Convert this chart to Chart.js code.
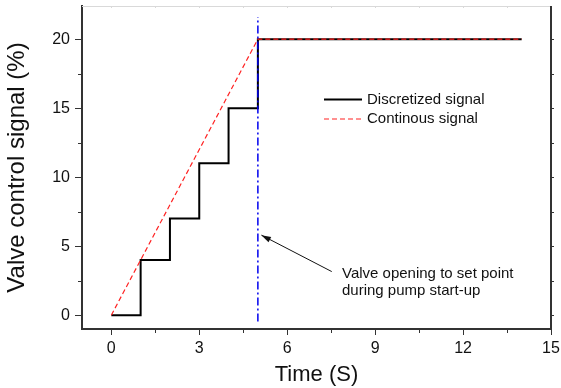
<!DOCTYPE html>
<html lang="en">

<head>
    <meta charset="UTF-8">
    <script src="https://cdn.jsdelivr.net/npm/chart.js@4.4.1/dist/chart.umd.min.js"></script>
    <title>Valve control signal</title>
</head>

<body style="margin: 0; background: #fff;">
    <canvas id="myChart" width="561" height="388"></canvas>
    <script>
        // discretized (stair) signal
        const stepTime = [0, 1, 1, 2, 2, 3, 3, 4, 4, 5, 5, 14];
        const stepValue = [0, 0, 4, 4, 7, 7, 11, 11, 15, 15, 20, 20];
        // continuous ramp
        const rampTime = [0, 5, 14];
        const rampValue = [0, 20, 20];
        // vertical marker at the set point
        const markTime = [5, 5];
        const markValue = [-0.45, 21.6];

        const xTicks = [0, 3, 6, 9, 12, 15];
        const xMinor = [1.5, 4.5, 7.5, 10.5, 13.5];
        const yTicks = [0, 5, 10, 15, 20];
        const yMinor = [2.5, 7.5, 12.5, 17.5];

        const noteLines = ['Valve opening to set point', 'during pump start-up'];
        const noteAt = [7.87, 2.99];
        const arrowFrom = [7.52, 3.16];
        const arrowTo = [5.12, 5.8];

        const FONT = "'Liberation Sans', Arial, sans-serif";

        function toPoints(xs, ys) {
            return xs.map((x, i) => ({ x: x, y: ys[i] }));
        }

        const frame = {
            id: 'frame',
            afterDraw(chart) {
                const ctx = chart.ctx;
                const a = chart.chartArea;
                const xs = chart.scales.x;
                const ys = chart.scales.y;
                ctx.save();
                // top line, light gray
                ctx.strokeStyle = '#d9d9d9';
                ctx.lineWidth = 1;
                ctx.beginPath();
                ctx.moveTo(a.left, a.top + 0.5);
                ctx.lineTo(a.right, a.top + 0.5);
                xTicks.concat(xMinor).forEach(v => {
                    const px = Math.round(xs.getPixelForValue(v)) + 0.5;
                    ctx.moveTo(px, a.top);
                    ctx.lineTo(px, a.top + 2);
                });
                ctx.stroke();
                // right axis
                ctx.strokeStyle = '#333';
                ctx.lineWidth = 2;
                ctx.beginPath();
                ctx.moveTo(a.right, a.top);
                ctx.lineTo(a.right, a.bottom);
                ctx.stroke();
                ctx.lineWidth = 1;
                ctx.beginPath();
                yTicks.concat(yMinor).forEach(v => {
                    const py = Math.round(ys.getPixelForValue(v)) + 0.5;
                    ctx.moveTo(a.right, py);
                    ctx.lineTo(a.right + 3, py);
                });
                // minor ticks on left and bottom
                yMinor.forEach(v => {
                    const py = Math.round(ys.getPixelForValue(v)) + 0.5;
                    ctx.moveTo(a.left - 4, py);
                    ctx.lineTo(a.left, py);
                });
                xMinor.forEach(v => {
                    const px = Math.round(xs.getPixelForValue(v)) + 0.5;
                    ctx.moveTo(px, a.bottom);
                    ctx.lineTo(px, a.bottom + 4);
                });
                ctx.stroke();

                // legend
                ctx.font = '15px ' + FONT;
                ctx.textBaseline = 'middle';
                ctx.textAlign = 'left';
                const legendRows = [0, 1];
                legendRows.forEach((di, i) => {
                    const ds = chart.data.datasets[di];
                    const y = 99.5 + i * 19.5;
                    ctx.strokeStyle = ds.borderColor;
                    ctx.lineWidth = ds.borderWidth;
                    ctx.setLineDash(ds.borderDash || []);
                    ctx.beginPath();
                    ctx.moveTo(324, y);
                    ctx.lineTo(362, y);
                    ctx.stroke();
                    ctx.setLineDash([]);
                    ctx.fillStyle = '#111';
                    ctx.fillText(ds.label, 367, y);
                });

                // annotation arrow + text
                const x0 = xs.getPixelForValue(arrowFrom[0]);
                const y0 = ys.getPixelForValue(arrowFrom[1]);
                const x1 = xs.getPixelForValue(arrowTo[0]);
                const y1 = ys.getPixelForValue(arrowTo[1]);
                ctx.strokeStyle = '#111';
                ctx.fillStyle = '#111';
                ctx.lineWidth = 1;
                ctx.beginPath();
                ctx.moveTo(x0, y0);
                ctx.lineTo(x1, y1);
                ctx.stroke();
                const ang = Math.atan2(y1 - y0, x1 - x0);
                ctx.beginPath();
                ctx.moveTo(x1, y1);
                ctx.lineTo(x1 - 10 * Math.cos(ang - 0.3), y1 - 10 * Math.sin(ang - 0.3));
                ctx.lineTo(x1 - 10 * Math.cos(ang + 0.3), y1 - 10 * Math.sin(ang + 0.3));
                ctx.closePath();
                ctx.fill();

                ctx.font = '15px ' + FONT;
                const tx = xs.getPixelForValue(noteAt[0]);
                const ty = ys.getPixelForValue(noteAt[1]);
                noteLines.forEach((t, i) => ctx.fillText(t, tx, ty + i * 17));
                ctx.restore();
            }
        };

        const ctx = document.getElementById('myChart').getContext('2d');
        const myChart = new Chart(ctx, {
            type: 'scatter',
            data: {
                datasets: [{
                    label: 'Discretized signal',
                    data: toPoints(stepTime, stepValue),
                    showLine: true,
                    borderColor: '#000',
                    borderWidth: 2,
                    pointRadius: 0,
                    order: 3,
                }, {
                    label: 'Continous signal',
                    data: toPoints(rampTime, rampValue),
                    showLine: true,
                    borderColor: '#f22',
                    borderWidth: 1.2,
                    borderDash: [5, 3],
                    pointRadius: 0,
                    order: 2,
                }, {
                    label: 'marker',
                    data: toPoints(markTime, markValue),
                    showLine: true,
                    borderColor: '#0000ee',
                    borderWidth: 1.5,
                    borderDash: [8, 3, 2, 3],
                    pointRadius: 0,
                    order: 1,
                }]
            },
            options: {
                responsive: false,
                animation: false,
                layout: { padding: { top: 6, right: 10, left: 0, bottom: 0 } },
                plugins: {
                    legend: { display: false },
                    tooltip: { enabled: false }
                },
                scales: {
                    x: {
                        type: 'linear',
                        min: -1,
                        max: 15,
                        afterBuildTicks: s => { s.ticks = xTicks.map(v => ({ value: v })); },
                        afterFit: s => { s.height = 59; s.paddingLeft = 0; s.paddingRight = 0; },
                        border: { color: '#333', width: 2 },
                        grid: { drawOnChartArea: false, color: '#333', tickLength: 6, lineWidth: 1 },
                        ticks: { color: '#111', padding: 4, font: { family: FONT, size: 16 }, maxRotation: 0 },
                        title: { display: true, text: 'Time (S)', color: '#111', padding: 0, font: { family: FONT, size: 22 } }
                    },
                    y: {
                        min: -1,
                        max: 22.4,
                        afterBuildTicks: s => { s.ticks = yTicks.map(v => ({ value: v })); },
                        afterFit: s => { s.width = 82; s.paddingTop = 0; s.paddingBottom = 0; },
                        border: { color: '#333', width: 2 },
                        grid: { drawOnChartArea: false, color: '#333', tickLength: 7, lineWidth: 1 },
                        ticks: { color: '#111', padding: 5, font: { family: FONT, size: 16 } },
                        title: { display: true, text: 'Valve control signal (%)', color: '#111', padding: { top: 3 }, font: { family: FONT, size: 24 } }
                    }
                }
            },
            plugins: [frame]
        });
    </script>
</body>

</html>
